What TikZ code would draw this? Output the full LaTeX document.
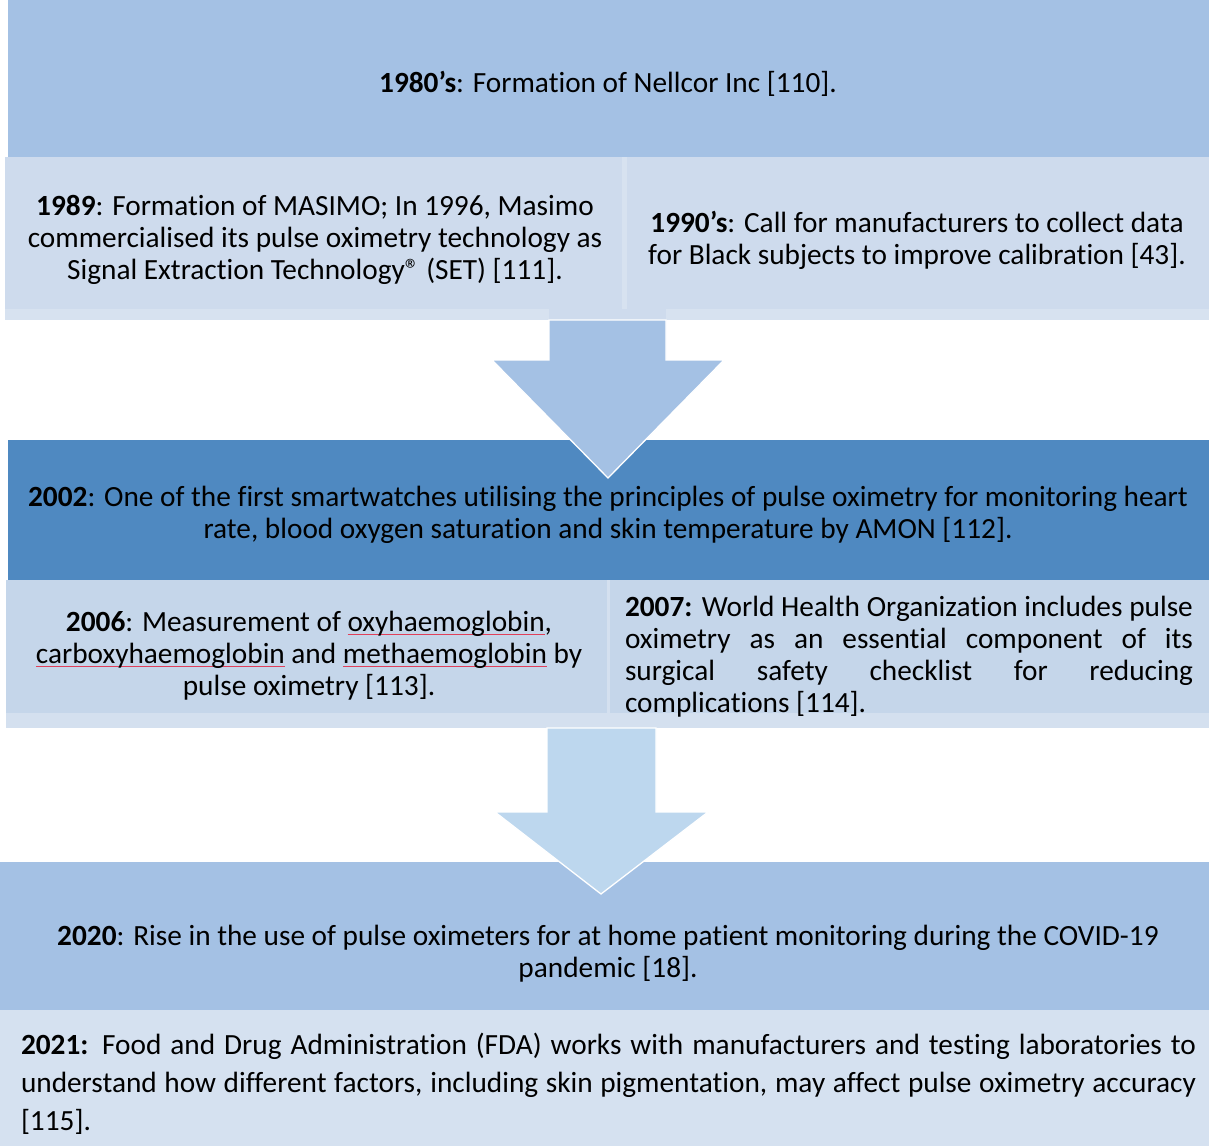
\documentclass[tikz,border=0pt]{standalone}
\usepackage{fontspec}
\setmainfont{Carlito}[Ligatures=CommonOff]
\definecolor{cTop}{HTML}{A4C1E4}
\definecolor{cRowA}{HTML}{CEDBED}
\definecolor{cStripA}{HTML}{D7E2F0}
\definecolor{cDark}{HTML}{4F89C1}
\definecolor{cRowB}{HTML}{C5D6EA}
\definecolor{cStripB}{HTML}{D4E0EF}
\definecolor{cArrowB}{HTML}{BDD7EE}
\definecolor{cLast}{HTML}{D5E1F0}
\definecolor{cSpell}{HTML}{E0405A}
\newlength\spellwd
\newcommand\spellmark[1]{\settowidth\spellwd{#1}\leavevmode{\color{cSpell}\rlap{\rule[-3.5pt]{\spellwd}{1pt}}}#1}
\tikzset{
  panel/.style={inner sep=0pt, outer sep=0pt, draw=none, anchor=north west},
  txt/.style={inner sep=0pt, outer sep=0pt, align=center, font=\fontsize{29.3}{32}\selectfont},
  jtxt/.style={inner sep=0pt, outer sep=0pt, align=justify, font=\fontsize{29.3}{32}\selectfont},
  bigarrow/.style={draw=white, line width=1.3pt, line join=miter}
}
\begin{document}
\begin{tikzpicture}[x=1pt,y=-1pt]
\useasboundingbox (0,0) rectangle (1209,1146);
% ---- top panel
\node[panel, fill=cTop, minimum width=1201pt, minimum height=157pt] (b1980) at (8,0) {};
\node[txt] (t1980) at (608,84) {\textbf{1980’s}: Formation of Nellcor Inc [110].};
% ---- row 2
\node[panel, fill=cStripA, minimum width=1204pt, minimum height=163pt] (rowA) at (5,157) {};
\node[panel, fill=cRowA, minimum width=617pt, minimum height=152pt] (b1989) at (5,157) {};
\node[panel, fill=cRowA, minimum width=582pt, minimum height=152pt] (b1990) at (627,157) {};
\node[txt] (t1989) at (315,240) {\textbf{1989}: Formation of MASIMO; In 1996, Masimo\\commercialised its pulse oximetry technology as\\Signal Extraction Technology® (SET) [111].};
\node[txt] (t1990) at (917,240) {\textbf{1990’s}: Call for manufacturers to collect data\\for Black subjects to improve calibration [43].};
% ---- 2002 panel
\node[panel, fill=cDark, minimum width=1201pt, minimum height=140pt] (b2002) at (8,440) {};
\node[txt] (t2002) at (608,515) {\textbf{2002}: One of the first smartwatches utilising the principles of pulse oximetry for monitoring heart\\rate, blood oxygen saturation and skin temperature by AMON [112].};
% ---- arrow 1
\fill[cRowA] (549,309) rectangle (666,320);
\filldraw[bigarrow, fill=cTop] (549,320) -- (666,320) -- (666,360) -- (724,360) -- (608,478) -- (492,360) -- (549,360) -- cycle;
% ---- row 4
\node[panel, fill=cStripB, minimum width=1203pt, minimum height=148pt] (rowB) at (6,580) {};
\node[panel, fill=cRowB, minimum width=601pt, minimum height=133pt] (b2006) at (6,580) {};
\node[panel, fill=cRowB, minimum width=599pt, minimum height=133pt] (b2007) at (610,580) {};
\node[txt] (t2006) at (309,656) {\textbf{2006}: Measurement of \spellmark{oxyhaemoglobin},\\\spellmark{carboxyhaemoglobin} and \spellmark{methaemoglobin} by\\pulse oximetry [113].};
\node[jtxt, text width=568pt] (t2007) at (909,657) {\textbf{2007:} World Health Organization includes pulse\linebreak{} oximetry as an essential component of its\linebreak{} surgical safety checklist for reducing\linebreak{} complications [114].};
% ---- 2020 panel
\node[panel, fill=cTop, minimum width=1209pt, minimum height=148pt] (b2020) at (0,862) {};
\node[txt] (t2020) at (608,954) {\textbf{2020}: Rise in the use of pulse oximeters for at home patient monitoring during the COVID-19\\pandemic [18].};
% ---- arrow 2
\filldraw[bigarrow, fill=cArrowB] (547,728) -- (656,728) -- (656,812) -- (708,812) -- (601,894) -- (495,812) -- (547,812) -- cycle;
% ---- 2021 panel
\node[panel, fill=cLast, minimum width=1209pt, minimum height=136pt] (b2021) at (0,1010) {};
\node[jtxt, text width=1175pt, font=\fontsize{29.3}{38}\selectfont] (t2021) at (608.5,1084) {\textbf{2021:} Food and Drug Administration (FDA) works with manufacturers and testing laboratories to\linebreak{} understand how different factors, including skin pigmentation, may affect pulse oximetry accuracy\linebreak{} [115].};
\end{tikzpicture}
\end{document}
